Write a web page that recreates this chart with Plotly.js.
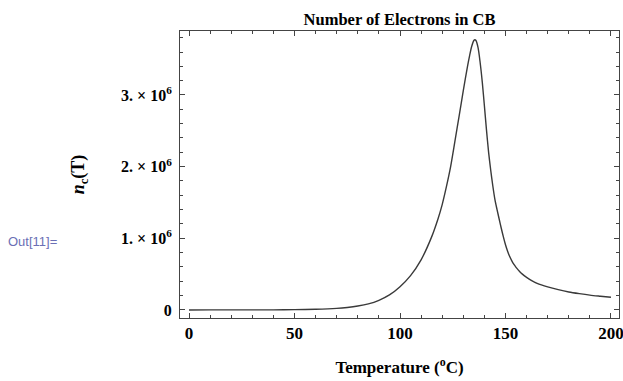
<!DOCTYPE html>
<html>
<head>
<meta charset="utf-8">
<script src="https://cdn.plot.ly/plotly-3.0.1.min.js"></script>
<style>html,body{margin:0;padding:0;background:#fff;}#chart{width:623px;height:381px;}</style>
</head>
<body>
<div id="chart"></div>
<script>
// Temperature (°C)
const temperature = [0, 10, 20, 30, 40, 50, 60, 70, 75, 80, 85, 90, 95, 100, 105, 110, 115, 118, 120, 122, 124, 125, 126, 128, 130, 132, 133, 134, 135, 135.5, 136, 137, 138, 139, 140, 141, 142, 143, 144, 145, 146, 147, 148, 149, 150, 151, 152, 153, 154, 155, 156, 157, 158, 159, 160, 162, 165, 170, 175, 180, 185, 190, 195, 200];
// Number of electrons in CB (millions)
const electronsMillions = [0.000, 0.001, 0.001, 0.002, 0.002, 0.005, 0.010, 0.022, 0.035, 0.055, 0.085, 0.135, 0.21, 0.325, 0.48, 0.70, 1.02, 1.27, 1.47, 1.72, 2.00, 2.17, 2.35, 2.70, 3.06, 3.40, 3.55, 3.68, 3.76, 3.77, 3.76, 3.66, 3.45, 3.18, 2.85, 2.51, 2.20, 1.95, 1.73, 1.54, 1.40, 1.27, 1.14, 1.02, 0.91, 0.82, 0.745, 0.685, 0.635, 0.595, 0.56, 0.528, 0.50, 0.476, 0.455, 0.418, 0.372, 0.322, 0.283, 0.251, 0.228, 0.208, 0.192, 0.177];
const xTickVals = [0, 50, 100, 150, 200];
const yTickVals = [0, 1e6, 2e6, 3e6];
const yTickText = ["0", "1. × 10<sup>6</sup>", "2. × 10<sup>6</sup>", "3. × 10<sup>6</sup>"];

const electrons = electronsMillions.map(v => v * 1e6);

const serif = "Liberation Serif, Times New Roman, serif";
const frameColor = "#444";

const trace = {
  x: temperature,
  y: electrons,
  type: "scatter",
  mode: "lines",
  line: {color: "#3a3a3a", width: 1.4, shape: "spline", smoothing: 0.8},
  hoverinfo: "skip"
};

const layout = {
  width: 623,
  height: 381,
  margin: {l: 180, r: 4, t: 31, b: 63},
  paper_bgcolor: "#fff",
  plot_bgcolor: "#fff",
  showlegend: false,
  title: {
    text: "<b>Number of Electrons in CB</b>",
    font: {family: serif, size: 16.5, color: "#000"},
    x: 0.5, xref: "paper", xanchor: "center",
    y: 1, yref: "paper", yanchor: "bottom", pad: {b: 6}
  },
  xaxis: {
    range: [-4.27, 203.8],
    tickvals: xTickVals,
    ticktext: xTickVals.map(v => "<b>" + v + "</b>"),
    ticklabeloverflow: "allow",
    ticks: "inside",
    ticklen: 5,
    tickwidth: 1,
    tickcolor: frameColor,
    minor: {dtick: 10, tick0: 0, ticks: "inside", ticklen: 3, tickcolor: frameColor, tickwidth: 1},
    showline: true,
    linecolor: frameColor,
    linewidth: 1,
    mirror: "allticks",
    showgrid: false,
    zeroline: false,
    tickfont: {family: serif, size: 17, color: "#000"},
    title: {
      text: "<b>Temperature (<sup>o</sup>C)</b>",
      font: {family: serif, size: 17, color: "#000"},
      standoff: 18
    }
  },
  yaxis: {
    range: [-0.112e6, 3.893e6],
    tickvals: yTickVals,
    ticktext: yTickText.map(t => "<b>" + t + "</b>"),
    ticklabeloverflow: "allow",
    ticks: "inside",
    ticklen: 5,
    tickwidth: 1,
    tickcolor: frameColor,
    minor: {dtick: 0.2e6, tick0: 0, ticks: "inside", ticklen: 3, tickcolor: frameColor, tickwidth: 1},
    showline: true,
    linecolor: frameColor,
    linewidth: 1,
    mirror: "allticks",
    showgrid: false,
    zeroline: false,
    tickfont: {family: serif, size: 16, color: "#000"},
    ticklabelstandoff: 4,
    title: {
      text: "<b><i>n</i><sub>c</sub>(T)</b>",
      font: {family: serif, size: 18, color: "#000"},
      standoff: 31
    }
  },
  annotations: [
    {
      text: "Out[11]=",
      xref: "paper", yref: "paper",
      x: -174/439, xanchor: "left",
      y: (318-241)/287, yanchor: "middle",
      showarrow: false,
      font: {family: "Liberation Sans, Arial, sans-serif", size: 13, color: "#6b6fb5"}
    }
  ]
};

Plotly.newPlot("chart", [trace], layout, {staticPlot: true, displayModeBar: false});
</script>
</body>
</html>
